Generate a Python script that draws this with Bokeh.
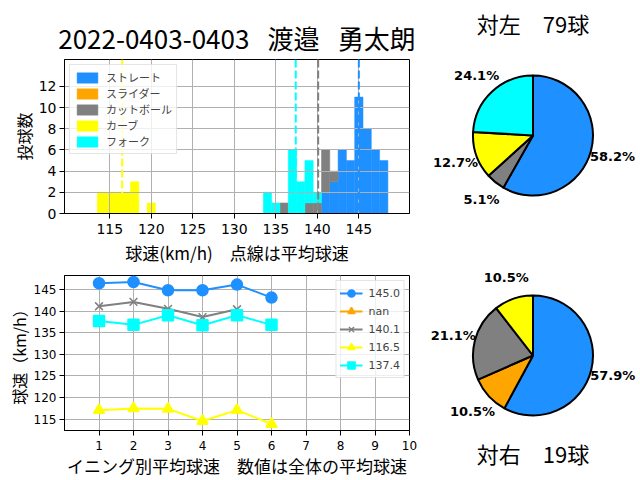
import math
from bokeh.plotting import figure
from bokeh.layouts import row, column
from bokeh.models import Range1d, FixedTicker, Legend, LegendItem, Span
from bokeh.core.properties import value
from bokeh.embed import file_html
from bokeh.resources import INLINE

JP = "Noto Sans CJK JP"
NUM = "DejaVu Sans"
NAN = float("nan")

# ---------------- data ----------------
pitch_names = ["ストレート", "スライダー", "カットボール", "カーブ", "フォーク"]
pitch_colors = ["#1e90ff", "#ffa500", "#808080", "#ffff00", "#00ffff"]
pitch_markers = ["circle", "triangle", "x", "triangle", "square"]
marker_angles = [0.0, math.pi / 2, 0.0, 0.0, 0.0]

# histogram: speed bin (km/h) -> number of pitches
straight_speeds = [141, 142, 143, 144, 145, 146, 147, 148]
straight_counts = [2, 3, 6, 5, 11, 8, 6, 5]
slider_speeds = [NAN]
slider_counts = [0]
cut_speeds = [136, 139, 140, 141, 142]
cut_counts = [1, 1, 1, 4, 1]
curve_speeds = [114, 115, 116, 117, 118, 120]
curve_counts = [2, 2, 2, 2, 3, 1]
fork_speeds = [134, 135, 137, 138, 139, 140]
fork_counts = [2, 1, 6, 3, 4, 1]

avg_speeds = [145.0, NAN, 140.1, 116.5, 137.4]

# average speed by inning
innings = [1, 2, 3, 4, 5, 6]
straight_by_inning = [146.4, 146.7, 144.8, 144.8, 146.1, 143.1]
slider_by_inning = [NAN, NAN, NAN, NAN, NAN, NAN]
cut_by_inning = [141.1, 142.1, 140.5, 138.6, 140.4, NAN]
curve_by_inning = [117.1, 117.5, 117.4, 114.6, 117.1, 113.9]
fork_by_inning = [137.7, 136.8, 139.0, 136.7, 139.0, 136.8]

# pitch counts vs left / right batters
vs_left_counts = [46, 0, 4, 10, 19]
vs_right_counts = [11, 2, 4, 2, 0]

hist_xticks = [115, 120, 125, 130, 135, 140, 145]
hist_yticks = [0, 2, 4, 6, 8, 10, 12]
inning_xticks = [1, 2, 3, 4, 5, 6, 7, 8, 9, 10]
inning_yticks = [115, 120, 125, 130, 135, 140, 145]

main_title = "2022-0403-0403\u2002\u2009渡邉\u2002\u2009勇太朗"
hist_xlabel = "球速(km/h)\u3000点線は平均球速"
hist_ylabel = "投球数"
inning_xlabel = "イニング別平均球速\u3000数値は全体の平均球速"
inning_ylabel = "球速（km/h）"


def style_axes(p, tick_size, label_size):
    for ax in p.axis:
        ax.major_label_text_font = NUM
        ax.major_label_text_font_size = tick_size
        ax.major_label_text_color = "black"
        ax.major_tick_in = 0
        ax.major_tick_out = 5
        ax.minor_tick_in = 0
        ax.minor_tick_out = 0
        ax.major_label_standoff = 3
        ax.axis_line_color = "black"
        ax.major_tick_line_color = "black"
        ax.axis_label_text_font = JP
        ax.axis_label_text_font_size = label_size
        ax.axis_label_text_font_style = "normal"
        ax.axis_label_text_color = "black"
    p.outline_line_color = "black"
    p.outline_line_alpha = 1
    p.outline_line_width = 1
    p.grid.grid_line_color = "#b0b0b0"
    p.grid.grid_line_width = 1


# ---------------- histogram ----------------
h = figure(width=430, height=270, x_range=Range1d(109.55, 151.1), y_range=Range1d(0, 14.55),
           output_backend="svg", toolbar_location=None,
           min_border_left=64, min_border_right=21, min_border_top=59, min_border_bottom=57)
h.title.text = main_title
h.title.align = "center"
h.title.text_font = JP
h.title.text_font_size = "26px"
h.title.text_font_style = "normal"
h.title.text_color = "black"
h.title.standoff = 8

hist_data = [(straight_speeds, straight_counts), (slider_speeds, slider_counts),
             (cut_speeds, cut_counts), (curve_speeds, curve_counts), (fork_speeds, fork_counts)]
stack = {}
hist_renderers = []
for (sp, ct), color in zip(hist_data, pitch_colors):
    bottoms = [stack.get(s, 0) for s in sp]
    tops = [b + c for b, c in zip(bottoms, ct)]
    for s, t in zip(sp, tops):
        stack[s] = t
    r = h.vbar(x=sp, bottom=bottoms, top=tops, width=1, fill_color=color,
               line_color=color, line_width=0.5, level="underlay")
    hist_renderers.append(r)

h.xgrid.level = "glyph"
h.ygrid.level = "glyph"

for avg, color in zip(avg_speeds, pitch_colors):
    if not math.isnan(avg):
        h.add_layout(Span(location=avg, dimension="height", line_color=color,
                          line_width=2, line_dash="8 3"))

h.xaxis.ticker = FixedTicker(ticks=hist_xticks)
h.yaxis.ticker = FixedTicker(ticks=hist_yticks)
h.xaxis.axis_label = hist_xlabel
h.yaxis.axis_label = hist_ylabel
style_axes(h, "14px", "16px")
h.xaxis.axis_label_text_font_size = "17px"
h.xaxis.major_label_standoff = 5
h.xaxis.axis_label_standoff = 3
h.yaxis.axis_label_standoff = 0

hleg = Legend(items=[LegendItem(label=n, renderers=[r]) for n, r in zip(pitch_names, hist_renderers)],
              location="top_left")
hleg.margin = 5
hleg.padding = 4
hleg.spacing = -1
hleg.glyph_width = 26
hleg.glyph_height = 13
hleg.label_height = 13
hleg.label_standoff = 6
hleg.label_text_font = JP
hleg.label_text_font_size = "11px"
hleg.border_line_color = "#cccccc"
hleg.border_line_width = 1
hleg.background_fill_alpha = 0.8
h.add_layout(hleg)

# ---------------- inning line chart ----------------
l = figure(width=430, height=210, x_range=Range1d(0, 10), y_range=Range1d(112.4, 148.2),
           output_backend="svg", toolbar_location=None,
           min_border_left=64, min_border_right=18, min_border_top=5, min_border_bottom=49)
series = [straight_by_inning, slider_by_inning, cut_by_inning, curve_by_inning, fork_by_inning]
items = []
for vals, color, mk, ang, avg in zip(series, pitch_colors, pitch_markers, marker_angles, avg_speeds):
    lr = l.line(innings, vals, line_color=color, line_width=2)
    sr = l.scatter(innings, vals, marker=mk, angle=ang, size=11, fill_color=color,
                   line_color=color, line_width=1.5)
    items.append(LegendItem(label="%.1f" % avg if not math.isnan(avg) else "nan", renderers=[lr, sr]))

l.xaxis.ticker = FixedTicker(ticks=inning_xticks)
l.yaxis.ticker = FixedTicker(ticks=inning_yticks)
l.xaxis.axis_label = inning_xlabel
l.yaxis.axis_label = inning_ylabel
style_axes(l, "12px", "16px")
l.xaxis.axis_label_text_font_size = "17px"
l.xaxis.major_label_standoff = 5
l.xaxis.axis_label_standoff = 0
l.yaxis.axis_label_standoff = 0

lleg = Legend(items=items, location="top_right")
lleg.margin = 5
lleg.padding = 3
lleg.spacing = -4
lleg.glyph_width = 23
lleg.glyph_height = 18
lleg.label_height = 18
lleg.label_standoff = 6
lleg.label_text_font = NUM
lleg.label_text_font_size = "11px"
lleg.border_line_color = "#cccccc"
lleg.border_line_width = 1
lleg.background_fill_alpha = 0.8
l.add_layout(lleg)


# ---------------- pies ----------------
def pie_figure(counts, side, cx, cy, title_y):
    p = figure(width=210, height=240, x_range=Range1d(0, 210), y_range=Range1d(0, 240),
               output_backend="svg", toolbar_location=None, min_border=0,
               x_axis_location=None, y_axis_location=None)
    p.grid.visible = False
    p.outline_line_color = None
    total = sum(counts)
    radius = 60
    cum = 0
    starts, ends, colors, lx, ly, labels = [], [], [], [], [], []
    for c, color in zip(counts, pitch_colors):
        if c == 0:
            continue
        a0 = math.pi / 2 - 2 * math.pi * cum / total
        cum += c
        a1 = math.pi / 2 - 2 * math.pi * cum / total
        starts.append(a0)
        ends.append(a1)
        colors.append(color)
        mid = (a0 + a1) / 2
        lx.append(cx + 1.37 * radius * math.cos(mid))
        ly.append(cy + 1.37 * radius * math.sin(mid))
        labels.append("%.1f%%" % (100.0 * c / total))
    p.wedge(x=[cx] * len(starts), y=[cy] * len(starts), radius=radius,
            start_angle=starts, end_angle=ends, direction="clock",
            fill_color=colors, line_color="black", line_width=2)
    p.text(x=lx, y=ly, text=labels, text_align="center", text_baseline="middle",
           text_font=value(NUM), text_font_style="bold", text_font_size="13px",
           text_color="black")
    p.text(x=[cx], y=[title_y], text=["%s\u3000%d球" % (side, total)], text_align="center",
           text_baseline="middle", text_font=value(JP), text_font_size="22px", text_color="black")
    return p


p1 = pie_figure(vs_left_counts, "対左", 102.5, 105, 218)
p2 = pie_figure(vs_right_counts, "対右", 102.5, 125, 28)

layout = row(column(h, l), column(p1, p2))
open("out.html", "w").write(file_html(layout, INLINE))
